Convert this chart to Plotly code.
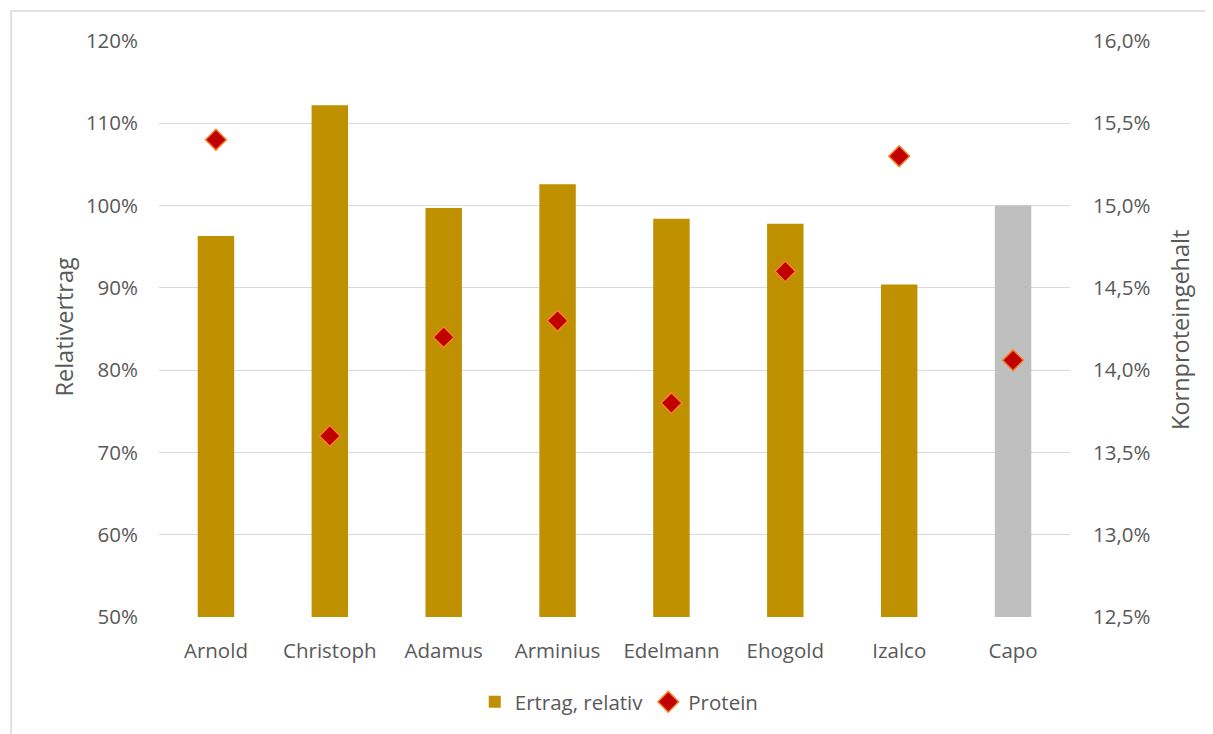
import plotly.graph_objects as go

categories = ["Arnold", "Christoph", "Adamus", "Arminius", "Edelmann", "Ehogold", "Izalco", "Capo"]
ertrag_relativ = [0.963, 1.122, 0.997, 1.026, 0.984, 0.978, 0.904, 1.000]
protein = [0.154, 0.136, 0.142, 0.143, 0.138, 0.146, 0.153, 0.1406]
bar_colors = ["#BF9000"] * 7 + ["#BFBFBF"]

# page body has an 8px margin; work in screen coordinates and subtract it
OFF = 8
W, H = 1213 - OFF, 734 - OFF
L, R, T, B = 158.5 - OFF, 143, 41 - OFF, 117
pw, ph = W - L - R, H - T - B
font = "Open Sans"
fc = "#595959"
fs = 20.5

def px(xs):  # screen x -> paper
    return (xs - OFF - L) / pw

def py(ys):  # screen y -> paper
    return (H - B - (ys - OFF)) / ph

fig = go.Figure()
fig.add_trace(go.Bar(
    x=categories, y=ertrag_relativ, name="Ertrag, relativ",
    marker=dict(color=bar_colors, line=dict(width=0)),
    width=0.32, yaxis="y",
))
fig.add_trace(go.Scatter(
    x=categories, y=protein, name="Protein", mode="markers",
    marker=dict(symbol="diamond", size=16, color="#C00000",
                line=dict(color="#F4822A", width=1.5)),
    yaxis="y2",
))

fig.update_layout(
    width=W, height=H,
    margin=dict(l=L, r=R, t=T, b=B),
    paper_bgcolor="white", plot_bgcolor="white",
    separators=",.",
    font=dict(family=font, size=fs, color=fc),
    showlegend=True,
    legend=dict(orientation="h", x=px(619), xanchor="center",
                y=py(702), yanchor="middle",
                font=dict(size=fs, color=fc), itemwidth=30, tracegroupgap=0),
    xaxis=dict(showgrid=False, showline=False, zeroline=False,
               ticks="", ticklabelstandoff=19, tickfont=dict(size=fs, color=fc)),
    yaxis=dict(range=[0.5, 1.2], dtick=0.1, tickformat=".0%",
               showgrid=True, gridcolor="#D9D9D9", gridwidth=1,
               zeroline=False, showline=False, ticks="",
               ticklabelstandoff=20, tickfont=dict(size=fs, color=fc)),
    yaxis2=dict(range=[0.125, 0.16], dtick=0.005, tickformat=".1%",
                overlaying="y", side="right", showgrid=False,
                zeroline=False, showline=False, ticks="",
                ticklabelstandoff=22, tickfont=dict(size=fs, color=fc)),
)

fig.add_annotation(text="Relativertrag", xref="paper", yref="paper",
                   x=px(63), y=py(327), textangle=-90, showarrow=False,
                   xanchor="center", yanchor="middle",
                   font=dict(size=23.5, color=fc, family=font))
fig.add_annotation(text="Kornproteingehalt", xref="paper", yref="paper",
                   x=px(1180), y=py(330), textangle=-90, showarrow=False,
                   xanchor="center", yanchor="middle",
                   font=dict(size=23.5, color=fc, family=font))

fig.add_shape(type="rect", xref="paper", yref="paper",
              x0=px(10.5), x1=px(1240), y0=py(760), y1=py(11),
              line=dict(color="#D9D9D9", width=1.5), fillcolor="rgba(0,0,0,0)",
              layer="below")

fig.write_html("out.html")
